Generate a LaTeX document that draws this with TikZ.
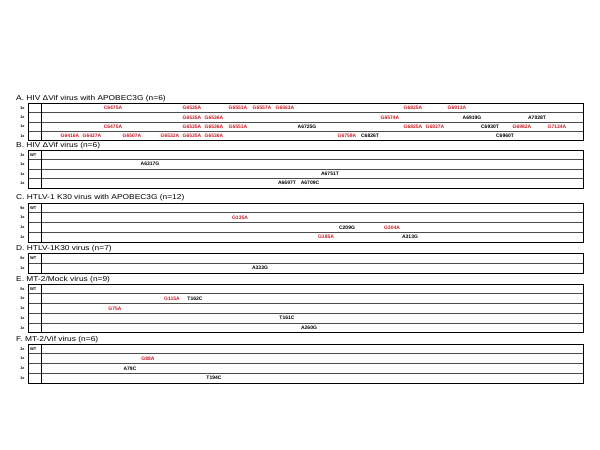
\documentclass[tikz,border=0pt]{standalone}
\usepackage{fontspec}
\setmainfont{Liberation Sans}
\newfontfamily\ttlfont[FakeStretch=1.18]{Liberation Sans}
\definecolor{mred}{RGB}{205,25,35}
\newcommand\drawtab[3]{% top, row height, rows
  \pgfmathsetmacro\tbot{#1+#2*#3}
  \pgfmathtruncatemacro\tnm{#3-1}
  \foreach \i in {1,...,\tnm}{\draw[innerline] (28,{#1+\i*#2}) -- (583,{#1+\i*#2});}
  \draw[outerline] (28,#1) rectangle (583,\tbot);
  \draw[outerline] (41,#1) -- (41,\tbot);
}
\newcommand\mR[3]{\node[mr] (#1) at #2 {#3};}
\newcommand\mK[3]{\node[mk] (#1) at #2 {#3};}
\begin{document}
\begin{tikzpicture}[x=1pt,y=-1pt,
  ttl/.style={anchor=west,font=\ttlfont\fontsize{7.1}{8}\selectfont,inner sep=0},
  cnt/.style={font=\fontsize{3.8}{4}\selectfont\bfseries,inner sep=0},
  wt/.style={anchor=west,font=\fontsize{4}{4}\selectfont\bfseries,inner sep=0},
  mr/.style={font=\fontsize{5}{5}\selectfont\bfseries,text=mred,inner sep=0},
  mk/.style={font=\fontsize{5}{5}\selectfont\bfseries,text=black,inner sep=0},
  outerline/.style={line width=1pt,black},
  innerline/.style={line width=0.8pt,black!70},
]
\useasboundingbox (0,0) rectangle (600,450);
\fill[white] (0,0) rectangle (600,450);

% ---------- A ----------
\node[ttl] (tA) at (16,98.8) {A. HIV ΔVif virus with APOBEC3G (n=6)};
\drawtab{103.5}{9.25}{4}
\node[cnt] (cA1) at (22.5,108.1) {3x};
\node[cnt] (cA2) at (22.5,117.4) {1x};
\node[cnt] (cA3) at (22.5,126.6) {1x};
\node[cnt] (cA4) at (22.5,135.9) {1x};
\mR{a11}{(113,108.1)}{C6475A}
\mR{a12}{(192,108.1)}{G6535A}
\mR{a13}{(238,108.1)}{G6551A}
\mR{a14}{(262,108.1)}{G6557A}
\mR{a15}{(285,108.1)}{G6563A}
\mR{a16}{(413,108.1)}{G6825A}
\mR{a17}{(457,108.1)}{G6913A}
\mR{a21}{(192,117.4)}{G6535A}
\mR{a22}{(214,117.4)}{G6536A}
\mR{a23}{(390,117.4)}{G6574A}
\mK{a24}{(472,117.4)}{A6919G}
\mK{a25}{(537,117.4)}{A7028T}
\mR{a31}{(113,126.6)}{C6475A}
\mR{a32}{(192,126.6)}{G6535A}
\mR{a33}{(214,126.6)}{G6536A}
\mR{a34}{(238,126.6)}{G6551A}
\mK{a35}{(307,126.6)}{A6725G}
\mR{a36}{(413,126.6)}{G6825A}
\mR{a37}{(435,126.6)}{G6837A}
\mK{a38}{(490,126.6)}{C6930T}
\mR{a39}{(522,126.6)}{G6982A}
\mR{a310}{(557,126.6)}{G7134A}
\mR{a41}{(70,135.9)}{G6416A}
\mR{a42}{(92,135.9)}{G6427A}
\mR{a43}{(132,135.9)}{G6507A}
\mR{a44}{(170,135.9)}{G6532A}
\mR{a45}{(192,135.9)}{G6535A}
\mR{a46}{(214,135.9)}{G6536A}
\mR{a47}{(347,135.9)}{G6759A}
\mK{a48}{(370,135.9)}{C6826T}
\mK{a49}{(505,135.9)}{C6960T}

% ---------- B ----------
\node[ttl] (tB) at (16,146) {B. HIV ΔVif virus (n=6)};
\drawtab{150}{9.5}{4}
\node[cnt] (cB1) at (22.5,154.75) {3x};
\node[cnt] (cB2) at (22.5,164.25) {1x};
\node[cnt] (cB3) at (22.5,173.75) {1x};
\node[cnt] (cB4) at (22.5,183.25) {1x};
\node[wt] (wB) at (30,154.75) {WT};
\mK{b21}{(150,164.25)}{A6317G}
\mK{b31}{(330,173.75)}{A6751T}
\mK{b41}{(287,183.25)}{A6697T}
\mK{b42}{(310,183.25)}{A6709C}

% ---------- C ----------
\node[ttl] (tC) at (16,198) {C. HTLV-1 K30 virus with APOBEC3G (n=12)};
\drawtab{203}{9.75}{4}
\node[cnt] (cC1) at (22.5,207.9) {9x};
\node[cnt] (cC2) at (22.5,217.6) {1x};
\node[cnt] (cC3) at (22.5,227.4) {1x};
\node[cnt] (cC4) at (22.5,237.1) {1x};
\node[wt] (wC) at (30,207.9) {WT};
\mR{c21}{(240,217.6)}{G135A}
\mK{c31}{(347,227.4)}{C209G}
\mR{c32}{(392,227.4)}{G304A}
\mR{c41}{(326,237.1)}{G185A}
\mK{c42}{(410,237.1)}{A313G}

% ---------- D ----------
\node[ttl] (tD) at (16,249) {D. HTLV-1K30 virus (n=7)};
\drawtab{253.5}{9.75}{2}
\node[cnt] (cD1) at (22.5,258.4) {6x};
\node[cnt] (cD2) at (22.5,268.1) {1x};
\node[wt] (wD) at (30,258.4) {WT};
\mK{d21}{(260,268.1)}{A333G}

% ---------- E ----------
\node[ttl] (tE) at (16,279.2) {E. MT-2/Mock virus (n=9)};
\drawtab{284}{9.75}{5}
\node[cnt] (cE1) at (22.5,288.9) {5x};
\node[cnt] (cE2) at (22.5,298.6) {1x};
\node[cnt] (cE3) at (22.5,308.4) {1x};
\node[cnt] (cE4) at (22.5,318.1) {1x};
\node[cnt] (cE5) at (22.5,327.9) {1x};
\node[wt] (wE) at (30,288.9) {WT};
\mR{e21}{(172,298.6)}{G115A}
\mK{e22}{(195,298.6)}{T162C}
\mR{e31}{(115,308.4)}{G75A}
\mK{e41}{(287,318.1)}{T161C}
\mK{e51}{(309,327.9)}{A260G}

% ---------- F ----------
\node[ttl] (tF) at (16,339.2) {F. MT-2/Vif virus (n=6)};
\drawtab{344}{9.75}{4}
\node[cnt] (cF1) at (22.5,348.9) {3x};
\node[cnt] (cF2) at (22.5,358.6) {1x};
\node[cnt] (cF3) at (22.5,368.4) {1x};
\node[cnt] (cF4) at (22.5,378.1) {1x};
\node[wt] (wF) at (30,348.9) {WT};
\mR{f21}{(148,358.6)}{G88A}
\mK{f31}{(130,368.4)}{A79C}
\mK{f41}{(214,378.1)}{T194C}
\end{tikzpicture}
\end{document}
